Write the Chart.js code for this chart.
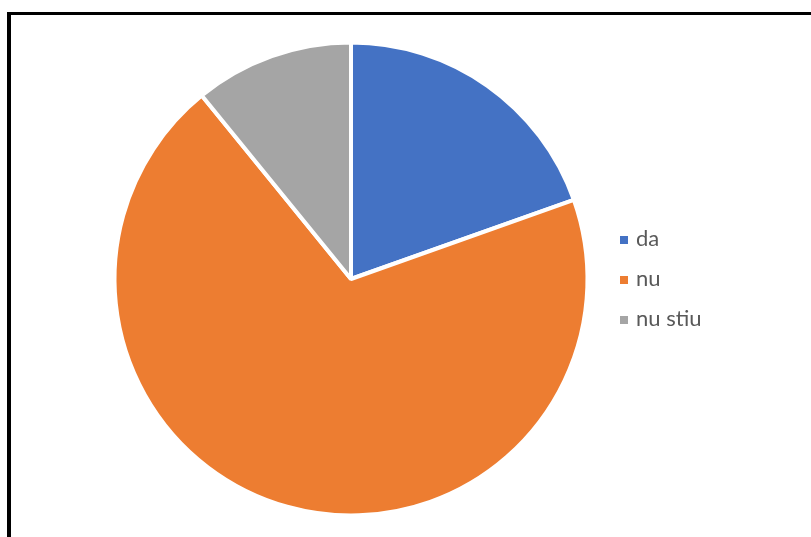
<!DOCTYPE html>
<html>
<head>
<meta charset="utf-8">
<script src="https://cdn.jsdelivr.net/npm/chart.js@4/dist/chart.umd.min.js"></script>
<style>
  html, body { margin: 0; padding: 0; background: #fff; }
  .frame {
    position: absolute; left: 7px; top: 12px;
    width: 900px; height: 600px;
    border-top: 3px solid #000; border-left: 4px solid #000;
  }
  .wrap { position: absolute; left: 0; top: 0; width: 811px; height: 537px; }
</style>
</head>
<body>
<div class="frame"></div>
<div class="wrap"><canvas id="pie"></canvas></div>
<script>
'use strict';

// ── DATA ────────────────────────────────────────────────────────────────────
const LABELS = ['da', 'nu', 'nu stiu'];
const VALUES = [18, 64, 10];
const COLORS = ['#4472C4', '#ED7D31', '#A5A5A5'];

// ── LEGEND (drawn to the right of the pie) ──────────────────────────────────
const sideLegend = {
  id: 'sideLegend',
  afterDraw(chart) {
    const ctx = chart.ctx;
    const colors = chart.data.datasets[0].backgroundColor;
    ctx.save();
    ctx.font = '22px Lato, "Open Sans", sans-serif';
    ctx.textBaseline = 'alphabetic';
    chart.data.labels.forEach((label, i) => {
      const y = 246 + i * 40;
      ctx.fillStyle = colors[i];
      ctx.fillRect(620, y - 10, 8, 8);
      ctx.fillStyle = '#595959';
      ctx.fillText(label, 636, y);
    });
    ctx.restore();
  }
};

// ── CHART ───────────────────────────────────────────────────────────────────
new Chart(document.getElementById('pie'), {
  type: 'pie',
  data: {
    labels: LABELS,
    datasets: [{
      data: VALUES,
      backgroundColor: COLORS,
      borderColor: '#ffffff',
      borderWidth: 4
    }]
  },
  options: {
    responsive: true,
    maintainAspectRatio: false,
    animation: false,
    layout: { padding: { left: 112.5, right: 221.5, top: 40.5, bottom: 19.5 } },
    plugins: {
      legend: { display: false },
      tooltip: { enabled: false }
    }
  },
  plugins: [sideLegend]
});
</script>
</body>
</html>
